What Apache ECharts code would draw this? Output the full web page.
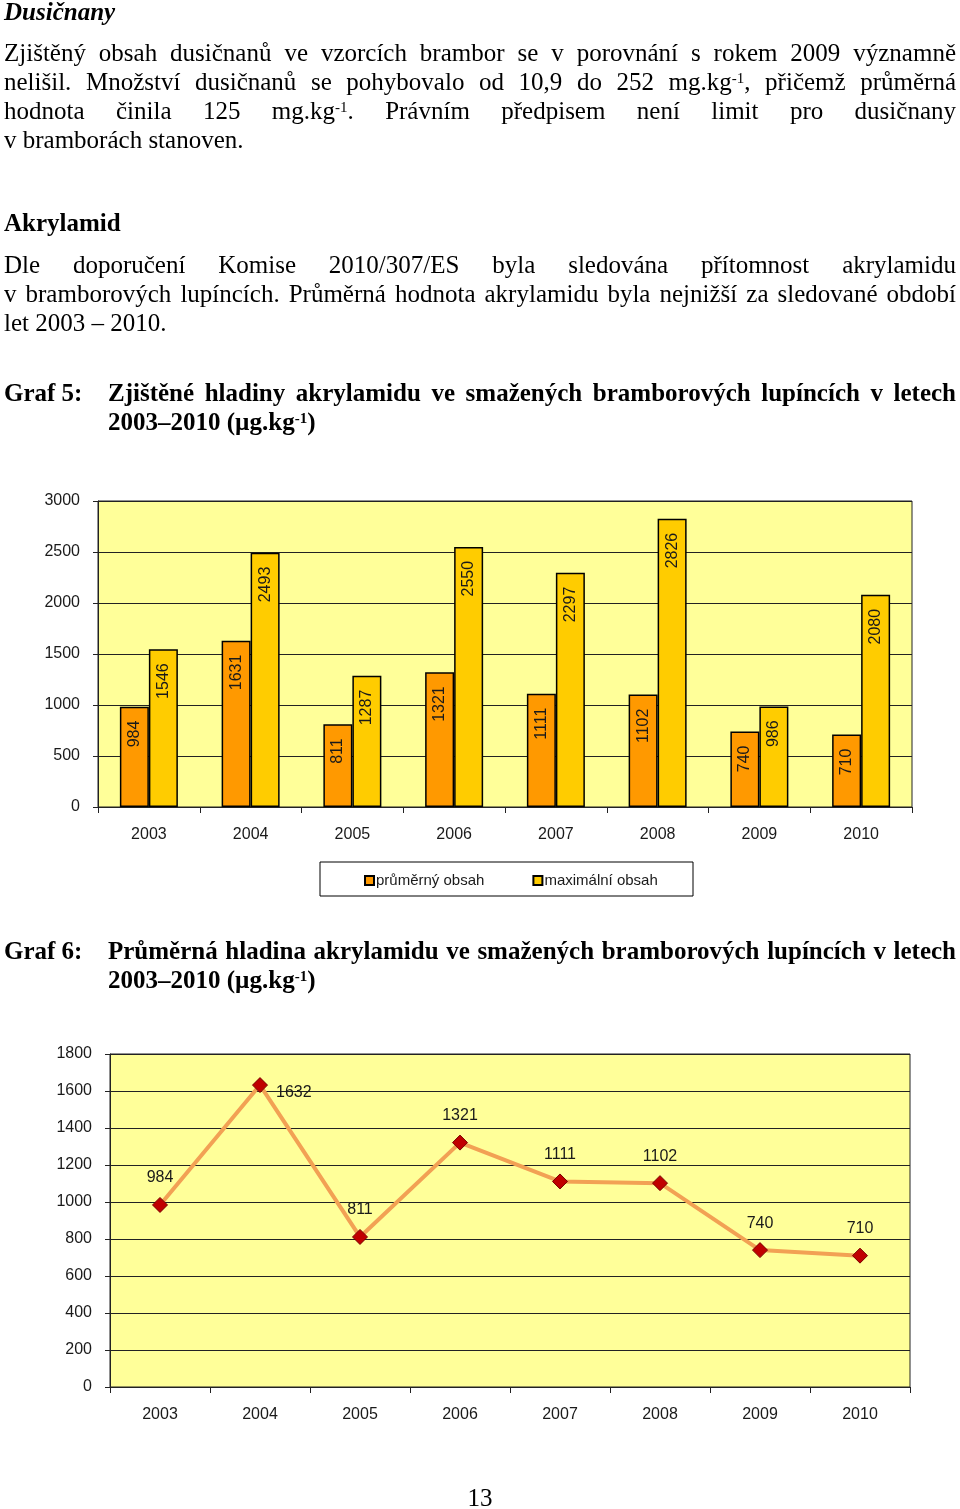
<!DOCTYPE html>
<html>
<head>
<meta charset="utf-8">
<script src="https://cdn.jsdelivr.net/npm/echarts@6/dist/echarts.min.js"></script>
<style>
  html, body { margin:0; padding:0; background:#fff; }
  body { width:960px; height:1509px; position:relative; overflow:hidden; }
  #chart { position:absolute; left:0; top:0; width:960px; height:1509px; }
  .ln { position:absolute; left:4px; width:952px; height:29px; line-height:29px;
        font-family:"Liberation Serif","Times New Roman",serif; font-size:25px; color:#000;
        white-space:nowrap; z-index:5; }
  .j { text-align:justify; text-align-last:justify; }
  .b { font-weight:bold; }
  .bi { font-weight:bold; font-style:italic; }
  .ind { left:108px; width:848px; }
  sup { font-size:60%; position:relative; top:-0.45em; vertical-align:baseline; line-height:0; }
</style>
</head>
<body>
<div id="chart"></div>

<div class="ln bi" style="top:-3px">Dusičnany</div>
<div class="ln j" style="top:38px">Zjištěný obsah dusičnanů ve vzorcích brambor se v porovnání s rokem 2009 významně</div>
<div class="ln j" style="top:67px">nelišil. Množství dusičnanů se pohybovalo od 10,9 do 252 mg.kg<sup>-1</sup>, přičemž průměrná</div>
<div class="ln j" style="top:96px">hodnota činila 125 mg.kg<sup>-1</sup>. Právním předpisem není limit pro dusičnany</div>
<div class="ln" style="top:125px">v bramborách stanoven.</div>

<div class="ln b" style="top:208px">Akrylamid</div>
<div class="ln j" style="top:250px">Dle doporučení Komise 2010/307/ES byla sledována přítomnost akrylamidu</div>
<div class="ln j" style="top:279px">v bramborových lupíncích. Průměrná hodnota akrylamidu byla nejnižší za sledované období</div>
<div class="ln" style="top:308px">let 2003 – 2010.</div>

<div class="ln b" style="top:378px">Graf 5:</div>
<div class="ln b j ind" style="top:378px">Zjištěné hladiny akrylamidu ve smažených bramborových lupíncích v letech</div>
<div class="ln b ind" style="top:407px">2003–2010 (µg.kg<sup>-1</sup>)</div>

<div class="ln b" style="top:936px">Graf 6:</div>
<div class="ln b j ind" style="top:936px">Průměrná hladina akrylamidu ve smažených bramborových lupíncích v letech</div>
<div class="ln b ind" style="top:965px">2003–2010 (µg.kg<sup>-1</sup>)</div>

<div class="ln" style="top:1483px; text-align:center; left:0; width:960px;">13</div>

<script>
const years = ['2003','2004','2005','2006','2007','2008','2009','2010'];
const avgValues = [984, 1631, 811, 1321, 1111, 1102, 740, 710];
const maxValues = [1546, 2493, 1287, 2550, 2297, 2826, 986, 2080];
const lineAvgValues = [984, 1632, 811, 1321, 1111, 1102, 740, 710];
const seriesNames = ['průměrný obsah', 'maximální obsah'];

const axisFont = { fontFamily: 'Liberation Sans, Arial, sans-serif', fontSize: 16, color: '#1a1a1a' };
const plainNum = v => String(v);

const barLabel = {
  show: true, position: 'insideTop', distance: 14, rotate: 90,
  align: 'right', verticalAlign: 'middle',
  fontFamily: 'Liberation Sans, Arial, sans-serif', fontSize: 16, color: '#1a1a1a'
};

const chart = echarts.init(document.getElementById('chart'), null, { renderer: 'canvas' });
chart.setOption({
  animation: false,
  backgroundColor: '#ffffff',
  graphic: [{
    type: 'rect', z: 0,
    shape: { x: 320, y: 862, width: 373, height: 34 },
    style: { fill: '#ffffff', stroke: '#000000', lineWidth: 1 }
  }],
  legend: {
    data: seriesNames, left: 359, top: 868, z: 10,
    icon: 'rect', itemWidth: 9, itemHeight: 9, itemGap: 48,
    textStyle: { fontFamily: 'Liberation Sans, Arial, sans-serif', fontSize: 15, color: '#1a1a1a', padding: [0,0,0,-3] }
  },
  grid: [
    { left: 98, top: 501, width: 814, height: 306, show: true, backgroundColor: '#FFFF99', borderColor: '#222', borderWidth: 1 },
    { left: 110, top: 1054, width: 800, height: 333, show: true, backgroundColor: '#FFFF99', borderColor: '#222', borderWidth: 1 }
  ],
  xAxis: [
    { type: 'category', gridIndex: 0, data: years,
      axisLine: { lineStyle: { color: '#222', width: 1 } },
      axisTick: { show: true, length: 6, lineStyle: { color: '#222' } },
      axisLabel: Object.assign({ margin: 20 }, axisFont) },
    { type: 'category', gridIndex: 1, data: years,
      axisLine: { lineStyle: { color: '#222', width: 1 } },
      axisTick: { show: true, length: 6, lineStyle: { color: '#222' } },
      axisLabel: Object.assign({ margin: 20 }, axisFont) }
  ],
  yAxis: [
    { type: 'value', gridIndex: 0, min: 0, max: 3000, interval: 500,
      axisLine: { show: true, lineStyle: { color: '#222' } },
      axisTick: { show: true, length: 5, lineStyle: { color: '#222' } },
      splitLine: { show: true, lineStyle: { color: '#222', width: 1 } },
      axisLabel: Object.assign({ margin: 18, formatter: plainNum }, axisFont) },
    { type: 'value', gridIndex: 1, min: 0, max: 1800, interval: 200,
      axisLine: { show: true, lineStyle: { color: '#222' } },
      axisTick: { show: true, length: 5, lineStyle: { color: '#222' } },
      splitLine: { show: true, lineStyle: { color: '#222', width: 1 } },
      axisLabel: Object.assign({ margin: 18, formatter: plainNum }, axisFont) }
  ],
  series: [
    { name: seriesNames[0], type: 'bar', xAxisIndex: 0, yAxisIndex: 0,
      data: avgValues, barWidth: 29, barGap: '0%',
      itemStyle: { color: '#FF9900', borderColor: '#000', borderWidth: 1.5 },
      label: barLabel },
    { name: seriesNames[1], type: 'bar', xAxisIndex: 0, yAxisIndex: 0,
      data: maxValues, barWidth: 29, barGap: '0%',
      itemStyle: { color: '#FFCC00', borderColor: '#000', borderWidth: 1.5 },
      label: barLabel },
    { name: 'průměrná hladina', type: 'line', xAxisIndex: 1, yAxisIndex: 1,
      data: lineAvgValues.map((v, i) => i === 1 ? { value: v, label: { position: 'right', distance: 8, offset: [0, 8] } } : v),
      symbol: 'diamond', symbolSize: 15,
      lineStyle: { color: '#F2A154', width: 4 },
      itemStyle: { color: '#C00000', borderColor: '#7a0000', borderWidth: 1 },
      label: { show: true, position: 'top', distance: 11,
        fontFamily: 'Liberation Sans, Arial, sans-serif', fontSize: 16, color: '#1a1a1a' } }
  ]
});
</script>
</body>
</html>
